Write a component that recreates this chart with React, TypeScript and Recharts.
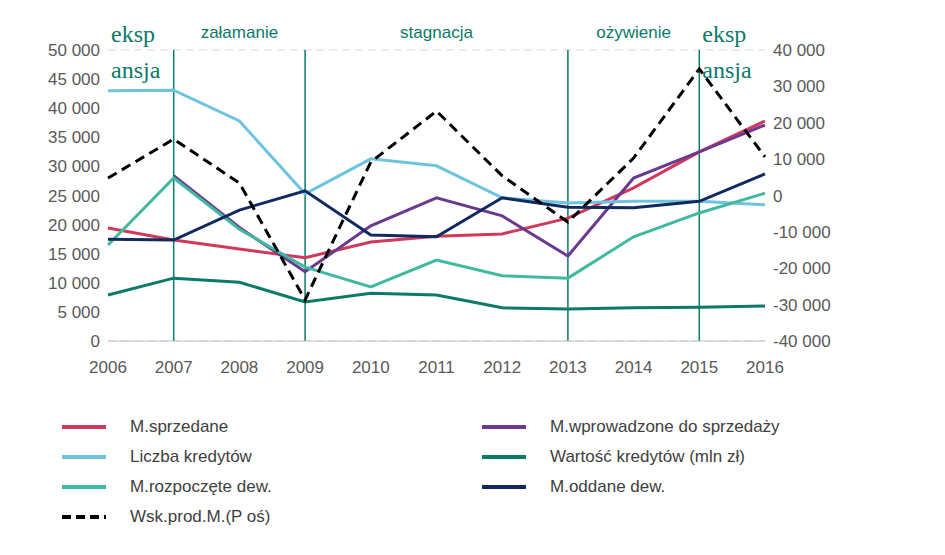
import React from 'react';
import {
  LineChart,
  Line,
  XAxis,
  YAxis,
  CartesianGrid,
  ReferenceLine,
  ReferenceArea,
} from 'recharts';

const years = [2006, 2007, 2008, 2009, 2010, 2011, 2012, 2013, 2014, 2015, 2016];
const sprzedane = [19400, 17350, 15800, 14300, 17000, 18000, 18400, 21100, 26300, 32500, 37800];
const wprowadzone = [null, 28400, 19500, 11900, 19800, 24600, 21500, 14600, 28000, 32500, 37100];
const liczbaKredytow = [43000, 43100, 37800, 25300, 31300, 30100, 24600, 23700, 24000, 24000, 23400];
const wartoscKredytow = [7900, 10800, 10100, 6700, 8200, 7900, 5700, 5500, 5700, 5800, 6000];
const rozpoczete = [16500, 28000, 19200, 12700, 9300, 13900, 11200, 10800, 17900, 22000, 25400];
const oddane = [17500, 17350, 22500, 25800, 18200, 17900, 24600, 23000, 22900, 24000, 28700];
const wskProd = [4800, 15500, 3400, -28700, 9200, 23200, 5400, -7300, 10300, 34800, 10600];

const leftTicks = [0, 5000, 10000, 15000, 20000, 25000, 30000, 35000, 40000, 45000, 50000];
const rightTicks = [-40000, -30000, -20000, -10000, 0, 10000, 20000, 30000, 40000];
const phaseLines = [2007, 2009, 2013, 2015];

const data = years.map((y, i) => ({
  year: y,
  sprzedane: sprzedane[i],
  wprowadzone: wprowadzone[i],
  liczba: liczbaKredytow[i],
  wartosc: wartoscKredytow[i],
  rozpoczete: rozpoczete[i],
  oddane: oddane[i],
  wsk: wskProd[i],
}));

const legend = [
  { name: 'M.sprzedane', color: '#d0395c', dash: false },
  { name: 'M.wprowadzone do sprzedaży', color: '#6b3a8e', dash: false },
  { name: 'Liczba kredytów', color: '#6ec4de', dash: false },
  { name: 'Wartość kredytów (mln zł)', color: '#0b7a68', dash: false },
  { name: 'M.rozpoczęte dew.', color: '#3fb9a0', dash: false },
  { name: 'M.oddane dew.', color: '#102a60', dash: false },
  { name: 'Wsk.prod.M.(P oś)', color: '#000000', dash: true },
];

const fmt = (v: number) => {
  const s = Math.abs(v).toString();
  const t = s.length > 3 ? s.slice(0, -3) + ' ' + s.slice(-3) : s;
  return (v < 0 ? '-' : '') + t;
};

const font = '"Liberation Sans", Arial, sans-serif';
const tick = { fill: '#595959', fontSize: 17, fontFamily: font };

const phaseLabel = (text: string) => (props: any) => {
  const { viewBox } = props;
  return (
    <text x={viewBox.x + viewBox.width / 2} y={viewBox.y - 12} textAnchor="middle"
      fill="#0b7a68" fontSize={17} fontFamily={font}>{text}</text>
  );
};

const ekspLabel = (props: any) => {
  const { viewBox } = props;
  return (
    <text x={viewBox.x + 3} y={viewBox.y - 8} fill="#0b7a68" fontSize={24}
      fontFamily='"Liberation Serif", serif'>
      <tspan x={viewBox.x + 3} dy={0}>eksp</tspan>
      <tspan x={viewBox.x + 3} dy={36}>ansja</tspan>
    </text>
  );
};

export default function App() {
  return (
    <div style={{ width: 945, fontFamily: font }}>
      <LineChart width={900} height={368} data={data}
        margin={{ top: 42, right: 33, left: 0, bottom: 5 }}>
        <CartesianGrid vertical={false} stroke="#d9d9d9" strokeDasharray="8 5" />
        <XAxis dataKey="year" type="number" domain={[2006, 2016]} ticks={years}
          tick={tick} axisLine={{ stroke: '#bfbfbf' }} tickLine={false} height={30} tickMargin={14} />
        <YAxis yAxisId="l" domain={[0, 50000]} ticks={leftTicks} tickFormatter={fmt}
          tick={tick} axisLine={false} tickLine={false} width={100} />
        <YAxis yAxisId="r" orientation="right" domain={[-40000, 40000]} ticks={rightTicks}
          tickFormatter={fmt} tick={tick} axisLine={false} tickLine={false} width={110} />
        <ReferenceArea yAxisId="l" x1={2006} x2={2007} fill="none" label={ekspLabel} />
        <ReferenceArea yAxisId="l" x1={2007} x2={2009} fill="none" label={phaseLabel('załamanie')} />
        <ReferenceArea yAxisId="l" x1={2009} x2={2013} fill="none" label={phaseLabel('stagnacja')} />
        <ReferenceArea yAxisId="l" x1={2013} x2={2015} fill="none" label={phaseLabel('ożywienie')} />
        <ReferenceArea yAxisId="l" x1={2015} x2={2016} fill="none" label={ekspLabel} />
        {phaseLines.map((x) => (
          <ReferenceLine key={x} yAxisId="l" x={x} stroke="#0b7a68" strokeWidth={1.5} />
        ))}
        <Line yAxisId="l" dataKey="sprzedane" stroke="#d0395c" strokeWidth={3} dot={false} isAnimationActive={false} />
        <Line yAxisId="l" dataKey="wprowadzone" stroke="#6b3a8e" strokeWidth={3} dot={false} isAnimationActive={false} />
        <Line yAxisId="l" dataKey="liczba" stroke="#6ec4de" strokeWidth={3} dot={false} isAnimationActive={false} />
        <Line yAxisId="l" dataKey="wartosc" stroke="#0b7a68" strokeWidth={3} dot={false} isAnimationActive={false} />
        <Line yAxisId="l" dataKey="rozpoczete" stroke="#3fb9a0" strokeWidth={3} dot={false} isAnimationActive={false} />
        <Line yAxisId="l" dataKey="oddane" stroke="#102a60" strokeWidth={3} dot={false} isAnimationActive={false} />
        <Line yAxisId="r" dataKey="wsk" stroke="#000000" strokeWidth={3} strokeDasharray="10 6" dot={false} isAnimationActive={false} />
      </LineChart>
      <div style={{ display: 'grid', gridTemplateColumns: '420px 420px', marginLeft: 54, marginTop: 40, rowGap: 9 }}>
        {legend.map((l) => (
          <div key={l.name} style={{ display: 'flex', alignItems: 'center', height: 21 }}>
            <svg width={44} height={6} style={{ marginRight: 24 }}>
              <line x1={0} y1={3} x2={44} y2={3} stroke={l.color} strokeWidth={4}
                strokeDasharray={l.dash ? '9 5' : undefined} />
            </svg>
            <span style={{ fontSize: 17, color: '#404040' }}>{l.name}</span>
          </div>
        ))}
      </div>
    </div>
  );
}
